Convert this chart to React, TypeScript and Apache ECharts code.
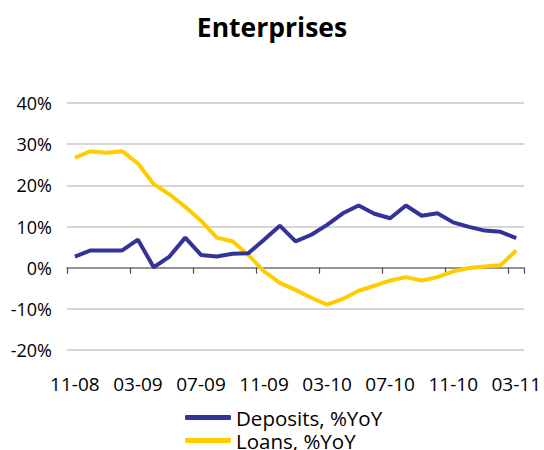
import React, { useEffect, useRef } from "react";
import * as echarts from "echarts";

const categories = [
  "11-08", "12-08",
  "01-09", "02-09", "03-09", "04-09", "05-09", "06-09", "07-09", "08-09", "09-09", "10-09", "11-09", "12-09",
  "01-10", "02-10", "03-10", "04-10", "05-10", "06-10", "07-10", "08-10", "09-10", "10-10", "11-10", "12-10",
  "01-11", "02-11", "03-11",
];

const deposits = [
  2.7, 4.2, 4.2, 4.2, 6.8, 0.1, 2.7, 7.3, 3.1, 2.7, 3.4, 3.5, 6.8, 10.2, 6.4,
  8.0, 10.4, 13.2, 15.1, 13.1, 12.0, 15.1, 12.6, 13.2, 11.0, 9.9, 9.0, 8.7, 7.2,
];

const loans = [
  26.7, 28.3, 27.9, 28.3, 25.3, 20.3, 17.8, 14.8, 11.4, 7.3, 6.4, 3.1, -0.9, -3.7, -5.4,
  -7.3, -9.0, -7.6, -5.6, -4.4, -3.1, -2.3, -3.1, -2.3, -0.9, -0.1, 0.3, 0.6, 4.2,
];

const FONT = "'Open Sans', 'Noto Sans', sans-serif";

export default function App() {
  const ref = useRef<HTMLDivElement>(null);
  useEffect(() => {
    document.body.style.margin = "0";
    const chart = echarts.init(ref.current!, null, { renderer: "svg" });
    chart.setOption({
      animation: false,
      backgroundColor: "#ffffff",
      title: {
        text: "Enterprises",
        left: "center",
        top: 8,
        textStyle: { fontFamily: FONT, fontSize: 26.5, fontWeight: "bold", color: "#000000" },
      },
      legend: {
        orient: "vertical",
        left: 185,
        top: 407,
        height: 60,
        padding: 0,
        itemWidth: 46,
        itemHeight: 5,
        itemGap: 2,
        icon: "roundRect",
        textStyle: { fontFamily: FONT, fontSize: 20.5, lineHeight: 20, color: "#000000" },
        data: ["Deposits, %YoY", "Loans, %YoY"],
      },
      grid: { left: 67, right: 17, top: 103, bottom: 100, containLabel: false },
      xAxis: [
        {
          type: "category",
          data: categories,
          boundaryGap: true,
          axisLine: { show: true, onZero: true, lineStyle: { color: "#7f7f7f", width: 1.5 } },
          axisTick: { show: true, interval: 3, length: 6, lineStyle: { color: "#4d4d4d", width: 1.2 } },
          axisLabel: { show: false },
          splitLine: { show: false },
        },
        {
          type: "category",
          data: categories,
          position: "bottom",
          boundaryGap: true,
          axisLine: { show: false, onZero: false },
          axisTick: { show: false },
          axisLabel: {
            show: true,
            interval: 3,
            margin: 24,
            fontFamily: FONT,
            fontSize: 19,
            color: "#000000",
          },
          splitLine: { show: false },
        },
      ],
      yAxis: {
        type: "value",
        min: -20,
        max: 40,
        interval: 10,
        axisLine: { show: false },
        axisTick: { show: false },
        axisLabel: {
          formatter: "{value}%",
          margin: 15,
          fontFamily: FONT,
          fontSize: 18,
          color: "#000000",
        },
        splitLine: { show: true, lineStyle: { color: "#c8c8c8", width: 1.5 } },
      },
      series: [
        {
          name: "Deposits, %YoY",
          type: "line",
          data: deposits,
          xAxisIndex: 0,
          symbol: "none",
          color: "#333399",
          lineStyle: { color: "#333399", width: 4 },
          z: 3,
        },
        {
          name: "Loans, %YoY",
          type: "line",
          data: loans,
          xAxisIndex: 0,
          symbol: "none",
          color: "#FFCC00",
          lineStyle: { color: "#FFCC00", width: 4 },
          z: 2,
        },
      ],
    });
    return () => chart.dispose();
  }, []);
  return <div ref={ref} style={{ width: 544, height: 450 }} />;
}
